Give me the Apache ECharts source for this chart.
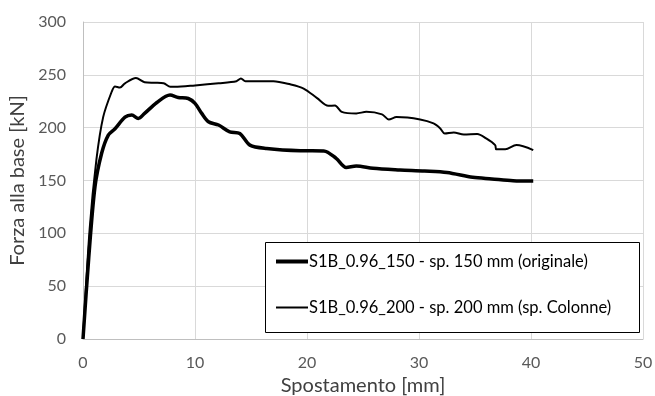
<!DOCTYPE html>
<html>
<head>
<meta charset="utf-8">
<script src="https://cdn.jsdelivr.net/npm/echarts@6/dist/echarts.min.js"></script>
<style>
  html, body { margin: 0; padding: 0; background: #fff; }
  #chart { width: 655px; height: 396px; }
</style>
</head>
<body>
<div id="chart"></div>
<script>
// S1B_0.96_150 - thick line
const disp150 = [0, 0.5, 1.07, 1.67, 2.26, 2.86, 3.75, 4.35, 4.94, 5.5, 6.6, 7.77, 8.5, 9.4, 10, 10.6, 11.2, 12.1, 13.1, 14, 14.9, 16.4, 19.4, 21.5, 22.6, 23.5, 24.4, 25.9, 28.3, 30.5, 32.5, 34.8, 36.5, 38.4, 40.2]
const force150 = [0, 75, 144, 176, 193, 199, 210, 212, 208.7, 213.5, 223.8, 230.8, 228.6, 227.6, 223, 213.5, 205.6, 202.5, 196, 194.5, 183.5, 180.3, 178.2, 178, 171, 162.3, 163.7, 161.5, 160, 159, 157.6, 153, 151.5, 149.8, 149.5]

// S1B_0.96_200 - thin line
const disp200 = [0, 0.6, 1.2, 1.8, 2.56, 2.86, 3.3, 3.75, 4.73, 5.5, 6.4, 7.2, 7.8, 8.2, 10, 12.1, 13.7, 14.1, 14.5, 17, 18.5, 19.7, 20.9, 21.9, 22.5, 23.1, 24.4, 25.3, 26.7, 27.3, 28, 30.1, 31.3, 31.9, 32.3, 33.1, 34, 35.2, 36, 36.8, 36.9, 37.7, 38.7, 40.2]
const force200 = [0, 105, 170, 210, 234, 239, 238, 242, 247, 243, 242.5, 242, 238.7, 238.7, 240, 242, 244, 246.6, 244, 244, 241, 237, 228, 220.7, 221, 215, 213.5, 215, 212.6, 207.8, 210, 207.8, 204, 199.3, 194.5, 195.5, 193.6, 194, 189.8, 183.5, 179.5, 179.5, 183.5, 178.8]

const seriesNames = ['S1B_0.96_150 - sp. 150 mm (originale)', 'S1B_0.96_200 - sp. 200 mm (sp. Colonne)']

const pairs = (xs, ys) => xs.map((x, i) => [x, ys[i]])

const font = 'Lato, "Open Sans", sans-serif'
const chart = echarts.init(document.getElementById('chart'))

// one legend per series so each icon gets its own line thickness
const legendFor = (name, top, thickness) => ({
  orient: 'vertical',
  left: 276,
  top,
  padding: 0,
  icon: 'rect',
  itemWidth: 32,
  itemHeight: thickness,
  z: 20,
  textStyle: { color: '#000', fontSize: 16.5, fontFamily: font, padding: [0, 0, 0, -4] },
  data: [{ name, itemStyle: { color: '#000' } }],
})

chart.setOption({
  animation: false,
  backgroundColor: '#fff',
  textStyle: { fontFamily: font },
  grid: { left: 83, right: 12, top: 22, bottom: 57, outerBoundsMode: 'none' },
  xAxis: {
    type: 'value',
    min: 0,
    max: 50,
    interval: 10,
    name: 'Spostamento [mm]',
    nameLocation: 'middle',
    nameGap: 36,
    nameTextStyle: { color: '#404040', fontSize: 20, fontFamily: font },
    axisLine: { show: true, lineStyle: { color: '#bfbfbf' } },
    axisTick: { show: false },
    axisLabel: { color: '#595959', fontSize: 16, margin: 16, fontFamily: font },
    splitLine: { lineStyle: { color: '#d9d9d9' } },
  },
  yAxis: {
    type: 'value',
    min: 0,
    max: 300,
    interval: 50,
    name: 'Forza alla base [kN]',
    nameLocation: 'middle',
    nameGap: 55,
    nameTextStyle: { color: '#404040', fontSize: 20, fontFamily: font },
    axisLine: { show: true, lineStyle: { color: '#bfbfbf' } },
    axisTick: { show: false },
    axisLabel: { color: '#595959', fontSize: 16, margin: 17, fontFamily: font },
    splitLine: { lineStyle: { color: '#d9d9d9' } },
  },
  graphic: [
    {
      type: 'rect',
      left: 265,
      top: 242,
      shape: { width: 374, height: 90 },
      style: { fill: '#fff', stroke: '#000', lineWidth: 1 },
      z: 10,
    },
  ],
  legend: [
    legendFor(seriesNames[0], 253, 4),
    legendFor(seriesNames[1], 299, 2),
  ],
  series: [
    {
      name: seriesNames[0],
      type: 'line',
      data: pairs(disp150, force150),
      symbol: 'none',
      smooth: 0.3,
      lineStyle: { color: '#000', width: 3.5 },
      itemStyle: { color: '#000' },
    },
    {
      name: seriesNames[1],
      type: 'line',
      data: pairs(disp200, force200),
      symbol: 'none',
      smooth: 0.3,
      lineStyle: { color: '#000', width: 2 },
      itemStyle: { color: '#000' },
    },
  ],
})
</script>
</body>
</html>
